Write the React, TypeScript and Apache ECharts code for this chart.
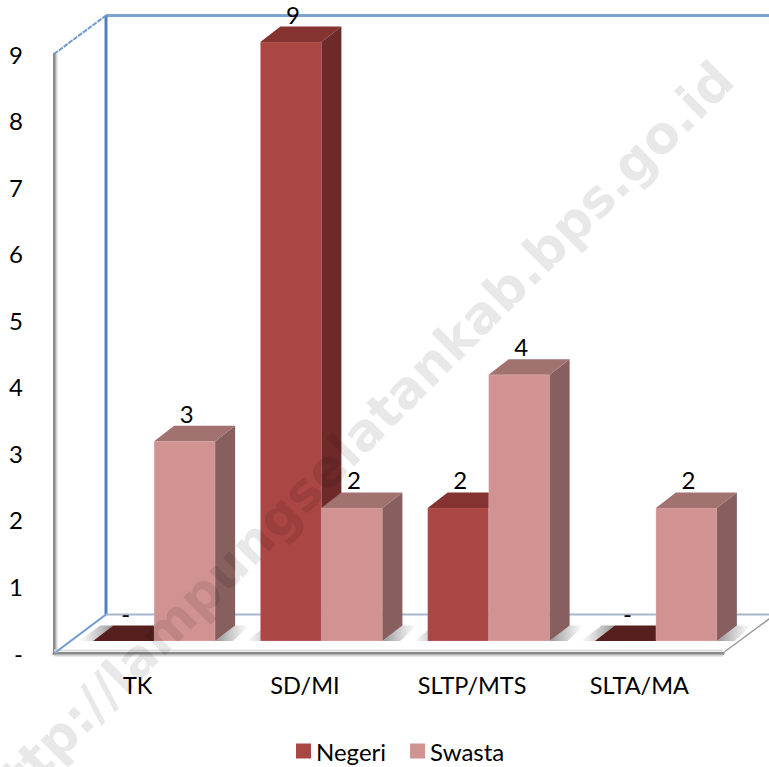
import React, { useEffect, useRef } from "react";
import * as echarts from "echarts";

const categories = ["TK", "SD/MI", "SLTP/MTS", "SLTA/MA"];
const negeri = [0, 9, 2, 0];
const swasta = [3, 2, 4, 2];
const yTicks = [0, 1, 2, 3, 4, 5, 6, 7, 8, 9];

const FONT = "Lato, 'Open Sans', sans-serif";
const BAR_W = 61;
const CENTER_SHIFT = 16.5;
const PLANE_DY = -12;
const DEPTH_X = 20;
const DEPTH_Y = -15.5;
const WALL_DX = 52;
const WALL_DY = -38.5;

const poly = (points: number[][], fill: any, stroke?: string) => ({
  type: "polygon",
  shape: { points },
  style: { fill, stroke: stroke ?? "none", lineWidth: stroke ? 1 : 0 },
});
const ln = (x1: number, y1: number, x2: number, y2: number, stroke: string, lineWidth: number, lineDash?: number[]) => ({
  type: "line",
  shape: { x1, y1, x2, y2 },
  style: { stroke, lineWidth, lineDash },
});
const fade = (dir: "l" | "r") => ({
  type: "linear",
  x: 0,
  y: 0,
  x2: 1,
  y2: 0,
  colorStops:
    dir === "l"
      ? [
          { offset: 0, color: "rgba(150,150,150,0)" },
          { offset: 1, color: "rgba(130,130,130,0.85)" },
        ]
      : [
          { offset: 0, color: "rgba(130,130,130,0.85)" },
          { offset: 1, color: "rgba(150,150,150,0)" },
        ],
});

const barSeries = (
  name: string,
  values: number[],
  side: -1 | 1,
  colors: { front: string; top: string; side: string; zero: string }
) => ({
  type: "custom",
  name,
  itemStyle: { color: colors.front },
  clip: false,
  encode: { x: 0, y: 1 },
  data: values.map((v, i) => [i, v]),
  renderItem: (_p: any, api: any) => {
    const value = api.value(1);
    const base = api.coord([api.value(0), 0]);
    const tip = api.coord([api.value(0), value]);
    const mid = base[0] + CENTER_SHIFT;
    const x0 = side < 0 ? mid - BAR_W : mid;
    const x1 = x0 + BAR_W;
    const yb = base[1] + PLANE_DY;
    const yt = tip[1] + PLANE_DY;
    const dx = DEPTH_X;
    const dy = DEPTH_Y;
    const children: any[] = [];
    if (side < 0) {
      children.push(poly([[x0 - 14, yb], [x0 + 7, yb + dy], [x0 + 20, yb + dy], [x0, yb]], fade("l")));
    } else {
      children.push(poly([[x1, yb], [x1 + dx, yb + dy], [x1 + dx + 14, yb + dy], [x1 + 18, yb]], fade("r")));
    }
    if (value > 0) {
      children.push(poly([[x0, yt], [x1, yt], [x1, yb], [x0, yb]], colors.front, "rgba(255,255,255,0.18)"));
      children.push(poly([[x1, yt], [x1 + dx, yt + dy], [x1 + dx, yb + dy], [x1, yb]], colors.side));
      children.push(poly([[x0, yt], [x0 + dx, yt + dy], [x1 + dx, yt + dy], [x1, yt]], colors.top));
    } else {
      children.push(poly([[x0, yt], [x0 + dx, yt + dy], [x1 + dx, yt + dy], [x1, yt]], colors.zero));
    }
    children.push({
      type: "text",
      style: {
        text: value === 0 ? "-" : String(value),
        x: (x0 + x1) / 2 + 2,
        y: yt - 28,
        align: "center",
        verticalAlign: "middle",
        font: `24px ${FONT}`,
        fill: "#000",
      },
    });
    return { type: "group", children };
  },
});

const frameSeries = {
  type: "custom",
  name: "frame",
  silent: true,
  clip: false,
  encode: { x: 0, y: 1 },
  data: [[0, 0]],
  renderItem: (params: any) => {
    const { x, y, width, height } = params.coordSys;
    const b = y + height;
    const r = x + width;
    const blue = "#4f81bd";
    const children = [
      ln(x + 2.5, y, x + 2.5, b, "#d4d4d4", 2),
      ln(x, b - 2.5, r, b - 2.5, "#dddddd", 2),
      ln(x, b + 2.5, r, b + 2.5, "#d4d4d4", 2),
      ln(x + WALL_DX, y + WALL_DY, 775, y + WALL_DY, "#7ea3cf", 3),
      ln(x + WALL_DX, y + WALL_DY, x + WALL_DX, b + WALL_DY, blue, 3),
      ln(x, y, x + WALL_DX, y + WALL_DY, "#6f9ad0", 2, [5, 1]),
      ln(x + 2, b - 1, x + WALL_DX, b + WALL_DY, "#6f9ad0", 2),
      ln(x + WALL_DX, b + WALL_DY, 775, b + WALL_DY, "#a9b6cc", 2),
      ln(r, b, r + WALL_DX, b + WALL_DY, "#9a9a9a", 1.5),
    ];
    return { type: "group", children };
  },
};

const option = {
  animation: false,
  backgroundColor: "#ffffff",
  textStyle: { fontFamily: FONT },
  grid: { left: 54, right: 46, top: 54, bottom: 114, containLabel: false },
  legend: {
    data: ["Negeri", "Swasta"],
    left: 291,
    top: 734,
    itemWidth: 15,
    itemHeight: 15,
    itemGap: 24,
    icon: "rect",
    selectedMode: false,
    textStyle: { fontFamily: FONT, fontSize: 24, color: "#000" },
  },
  xAxis: {
    type: "category",
    data: categories,
    axisLine: { lineStyle: { color: "#8a8a8a", width: 3 } },
    axisTick: { show: false },
    axisLabel: { fontFamily: FONT, fontSize: 23.5, color: "#000", margin: 20 },
  },
  yAxis: {
    type: "value",
    min: 0,
    max: yTicks[yTicks.length - 1],
    interval: 1,
    splitLine: { show: false },
    axisLine: { show: true, lineStyle: { color: "#8a8a8a", width: 3 } },
    axisTick: { show: false },
    axisLabel: {
      fontFamily: FONT,
      fontSize: 24,
      color: "#000",
      margin: 31,
      formatter: (v: number) => (v === 0 ? "-" : String(v)),
    },
  },
  graphic: [
    {
      type: "text",
      z: 100,
      silent: true,
      x: 354,
      y: 441,
      rotation: (45 * Math.PI) / 180,
      style: {
        text: "http://lampungselatankab.bps.go.id",
        font: "bold 51.7px 'DejaVu Sans', Verdana, sans-serif",
        fill: "rgba(0,0,0,0.09)",
        align: "center",
        verticalAlign: "middle",
      },
    },
  ],
  series: [
    frameSeries,
    barSeries("Negeri", negeri, -1, { front: "#aa4643", top: "#843331", side: "#6e2a28", zero: "#55201e" }),
    barSeries("Swasta", swasta, 1, { front: "#d19392", top: "#a27271", side: "#865f5e", zero: "#865f5e" }),
  ],
};

export default function App() {
  const ref = useRef<HTMLDivElement>(null);
  useEffect(() => {
    const chart = echarts.init(ref.current!, undefined, { renderer: "svg" });
    chart.setOption(option as any);
    return () => chart.dispose();
  }, []);
  return <div ref={ref} style={{ position: "absolute", left: 0, top: 0, width: 769, height: 767 }} />;
}
